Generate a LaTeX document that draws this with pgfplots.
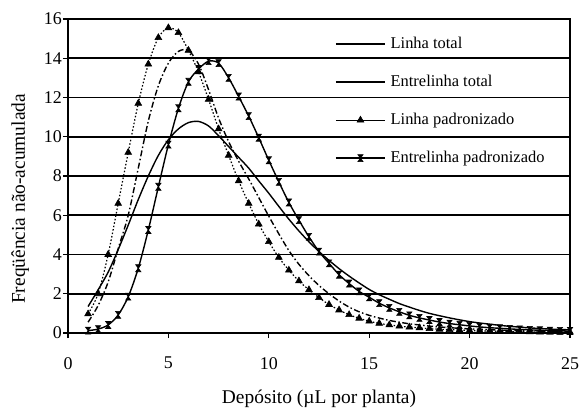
\documentclass[border=0pt]{standalone}
\usepackage{fontspec}
\setmainfont{Liberation Serif}
\usepackage{pgfplots}
\pgfplotsset{compat=1.18}
\pgfdeclareplotmark{hourglass}{%
  \pgfpathmoveto{\pgfqpoint{-0.75\pgfplotmarksize}{\pgfplotmarksize}}%
  \pgfpathlineto{\pgfqpoint{0.75\pgfplotmarksize}{\pgfplotmarksize}}%
  \pgfpathlineto{\pgfqpoint{-0.75\pgfplotmarksize}{-\pgfplotmarksize}}%
  \pgfpathlineto{\pgfqpoint{0.75\pgfplotmarksize}{-\pgfplotmarksize}}%
  \pgfpathclose
  \pgfusepathqfillstroke}

\pgfplotstableread{
x y
1 1.35
1.5 2.2
2 3.1
2.5 4.25
3 5.5
3.5 6.8
4 8.0
4.5 9.05
5 9.85
5.5 10.4
6 10.72
6.5 10.78
7 10.55
7.5 10.05
8 9.5
8.5 8.95
9 8.4
9.5 7.75
10 7.12
10.5 6.45
11 5.8
11.5 5.2
12 4.65
12.5 4.15
13 3.7
13.5 3.28
14 2.9
14.5 2.55
15 2.22
15.5 1.95
16 1.72
16.5 1.5
17 1.32
17.5 1.15
18 1.0
18.5 0.88
19 0.77
19.5 0.67
20 0.58
20.5 0.51
21 0.45
21.5 0.39
22 0.34
22.5 0.30
23 0.26
23.5 0.23
24 0.20
24.5 0.18
25 0.16
}\linhatotal

\pgfplotstableread{
x y
1 0.55
1.5 1.4
2 2.6
2.5 4.3
3 6.0
3.5 8.4
4 10.8
4.5 12.6
5 13.75
5.5 14.35
6 14.4
6.5 13.7
7 12.4
7.5 10.95
8 9.75
8.5 8.75
9 7.85
9.5 6.9
10 5.95
10.5 5.05
11 4.2
11.5 3.5
12 2.92
12.5 2.42
13 2.0
13.5 1.63
14 1.32
14.5 1.08
15 0.9
15.5 0.76
16 0.64
16.5 0.55
17 0.47
17.5 0.41
18 0.35
18.5 0.31
19 0.27
19.5 0.24
20 0.21
20.5 0.19
21 0.17
21.5 0.15
22 0.13
22.5 0.12
23 0.11
23.5 0.10
24 0.09
24.5 0.08
25 0.07
}\entrelinhatotal

\pgfplotstableread{
x y
1 0.97
1.5 2.0
2 4.0
2.5 6.6
3 9.2
3.5 11.7
4 13.7
4.5 15.05
5 15.55
5.5 15.3
6 14.4
6.5 13.3
7 11.9
7.5 10.4
8 9.05
8.5 7.75
9 6.6
9.5 5.55
10 4.65
10.5 3.85
11 3.2
11.5 2.65
12 2.2
12.5 1.8
13 1.45
13.5 1.17
14 0.93
14.5 0.75
15 0.6
15.5 0.49
16 0.41
16.5 0.35
17 0.30
17.5 0.26
18 0.22
18.5 0.19
19 0.17
19.5 0.15
20 0.13
20.5 0.11
21 0.10
21.5 0.09
22 0.08
22.5 0.07
23 0.06
23.5 0.05
24 0.05
24.5 0.04
25 0.04
}\linhapad

\pgfplotstableread{
x y
1 0.12
1.5 0.2
2 0.41
2.5 0.92
3 1.85
3.5 3.3
4 5.25
4.5 7.45
5 9.6
5.5 11.45
6 12.8
6.5 13.45
7 13.85
7.5 13.75
8 13.0
8.5 12.05
9 11.05
9.5 9.95
10 8.8
10.5 7.7
11 6.65
11.5 5.75
12 4.9
12.5 4.15
13 3.55
13.5 2.97
14 2.52
14.5 2.12
15 1.82
15.5 1.52
16 1.28
16.5 1.08
17 0.9
17.5 0.77
18 0.66
18.5 0.56
19 0.48
19.5 0.42
20 0.36
20.5 0.31
21 0.27
21.5 0.24
22 0.21
22.5 0.18
23 0.16
23.5 0.14
24 0.12
24.5 0.11
25 0.10
}\entrelinhapad

\begin{document}
\begin{tikzpicture}
\begin{axis}[
  name=ax,
  scale only axis,
  width=502bp, height=314bp,
  xmin=0, xmax=25, ymin=0, ymax=16,
  xtick={0,5,...,25}, ytick={0,2,...,16},
  xtick pos=left, ytick pos=left,
  tick align=outside,
  major tick length=5bp,
  tick style={black, line width=1.3bp},
  axis line style={black, line width=1.8bp},
  ymajorgrids,
  grid style={black, line width=1.8bp},
  /pgf/number format/assume math mode=true,
  tick label style={font=\fontsize{18}{18}\selectfont},
  yticklabel style={inner xsep=1bp},
  xticklabel style={inner ysep=0pt, yshift=-19bp},
  xlabel={Depósito (µL por planta)},
  ylabel={Freqüência não-acumulada},
  label style={font=\fontsize{19.5}{19.5}\selectfont},
  xlabel style={at={(axis description cs:0.5,-0.226)}, anchor=base},
  ylabel style={at={(axis description cs:-0.086,0.427)}, anchor=base},
  legend style={at={(0.532,0.946)}, anchor=north west, draw=none, fill=none,
    inner sep=0pt, row sep=22bp, column sep=5bp,
    font=\fontsize{16.5}{16.5}\selectfont,
    nodes={inner sep=0pt, text height=12bp, text depth=4bp}},
  legend cell align=left,
  legend image code/.code={\draw[mark repeat=2,mark phase=2,#1,solid] plot coordinates {(0bp,0bp) (24.5bp,0bp) (49bp,0bp)};},
]
\addplot[black, line width=1.4bp, smooth, no marks] table[x=x,y=y] {\linhatotal};
\addlegendentry{Linha total}
\addplot[black, line width=1.4bp, smooth, no marks, dash pattern=on 6bp off 2.5bp on 1.5bp off 2.5bp] table[x=x,y=y] {\entrelinhatotal};
\addlegendentry{Entrelinha total}
\addplot[black, line width=1.2bp, smooth, dash pattern=on 1.5bp off 2bp, mark=triangle*, mark size=3.9bp, mark options={solid, fill=black, line width=0.6bp}] table[x=x,y=y] {\linhapad};
\addlegendentry{Linha padronizado}
\addplot[black, line width=1.4bp, smooth, mark=hourglass, mark size=3.5bp, mark options={solid, fill=black, line width=0.6bp}] table[x=x,y=y] {\entrelinhapad};
\addlegendentry{Entrelinha padronizado}
\end{axis}
\pgfresetboundingbox
\path[use as bounding box] ([shift={(-68bp,-81bp)}]ax.south west) rectangle ([shift={(12bp,19bp)}]ax.north east);
\end{tikzpicture}
\end{document}
